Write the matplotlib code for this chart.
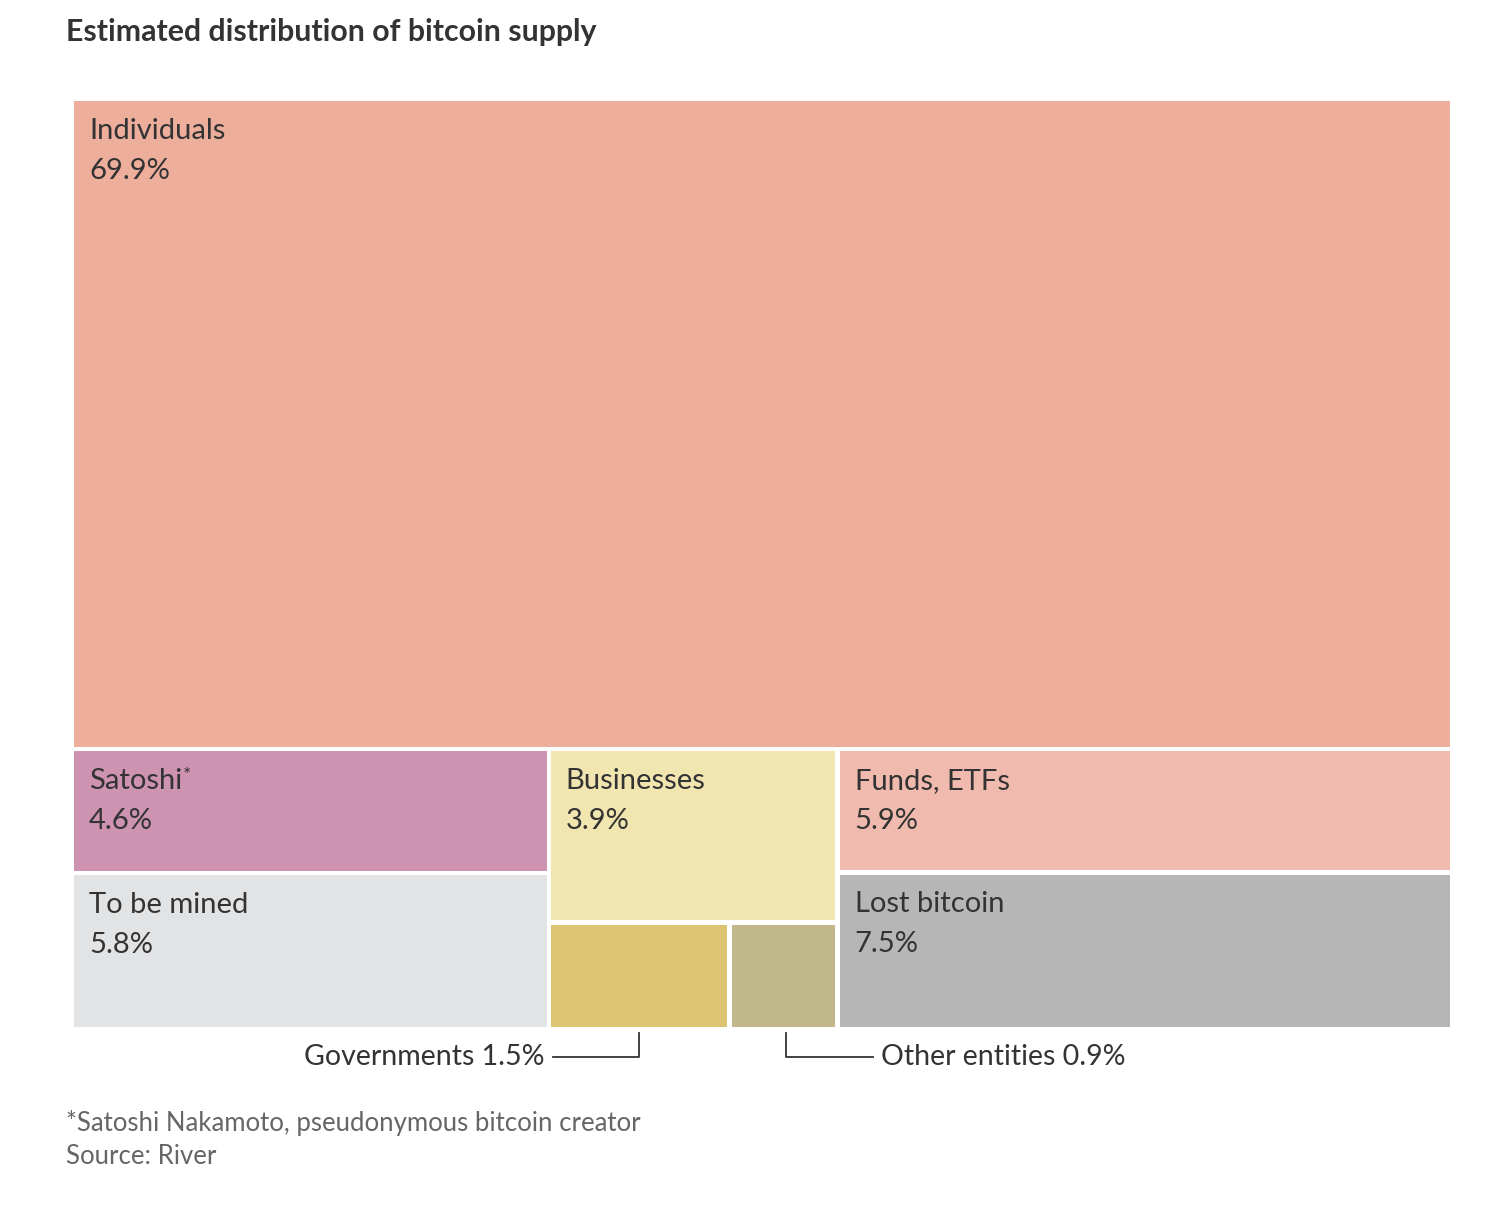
import matplotlib.pyplot as plt
from matplotlib.patches import Rectangle

plt.rcParams['font.family'] = ['Lato', 'DejaVu Sans']

# data (percent of supply)
top_label = "Individuals"
top_value = 69.9
# bottom row, column by column; each column is stacked top to bottom,
# a nested list is a sub-row split side by side
columns = [
    [("Satoshi*", 4.6), ("To be mined", 5.8)],
    [("Businesses", 3.9), [("Governments", 1.5), ("Other entities", 0.9)]],
    [("Funds, ETFs", 5.9), ("Lost bitcoin", 7.5)],
]
colors = {
    "Individuals": "#EDAE9C",
    "Satoshi*": "#CD93B1",
    "To be mined": "#E2E3E5",
    "Businesses": "#F2E6B0",
    "Governments": "#DCC473",
    "Other entities": "#C0B78A",
    "Funds, ETFs": "#F0BAAE",
    "Lost bitcoin": "#B6B6B6",
}
inline_labels = ["Individuals", "Satoshi*", "To be mined", "Businesses", "Funds, ETFs", "Lost bitcoin"]

TEXT = "#333333"
GAP = 4.5
FS = 21

fig = plt.figure(figsize=(15.08, 12.06), dpi=100)
ax = fig.add_axes([0, 0, 1, 1])
ax.set_xlim(0, 1508)
ax.set_ylim(1206, 0)
ax.axis("off")

# treemap frame in pixel coords
X0, Y0, X1, Y1 = 72, 99, 1452, 1029
W, H = X1 - X0, Y1 - Y0


def weight(item):
    if isinstance(item, list):
        return sum(weight(i) for i in item)
    return item[1]


rects = {}
total = top_value + sum(weight(c) for c in columns)
top_h = H * top_value / total
rects[top_label] = (X0, Y0, W, top_h, top_value)

bottom_total = sum(weight(c) for c in columns)
x = X0
by = Y0 + top_h
bh = H - top_h
for col in columns:
    cw = W * weight(col) / bottom_total
    y = by
    for item in col:
        ih = bh * weight(item) / weight(col)
        if isinstance(item, list):
            xx = x
            for name, v in item:
                iw = cw * v / weight(item)
                rects[name] = (xx, y, iw, ih, v)
                xx += iw
        else:
            rects[item[0]] = (x, y, cw, ih, item[1])
        y += ih
    x += cw

for name, (rx, ry, rw, rh, v) in rects.items():
    ax.add_patch(Rectangle((rx + GAP / 2, ry + GAP / 2), rw - GAP, rh - GAP,
                           facecolor=colors[name], edgecolor="none"))
    if name in inline_labels:
        if name.endswith("*"):
            t = ax.text(rx + 17, ry + 19, name[:-1], fontsize=FS, color=TEXT, va="top")
            fig.canvas.draw()
            bb = t.get_window_extent()
            ax.text(bb.x1 / fig.dpi * 100 + 1, ry + 18, "*", fontsize=14, color=TEXT, va="top")
        else:
            ax.text(rx + 17, ry + 19, name, fontsize=FS, color=TEXT, va="top")
        ax.text(rx + 17, ry + 59, f"{v}%", fontsize=FS, color=TEXT, va="top")

# leader labels for the small boxes
gx, gy, gw, gh, gv = rects["Governments"]
ox, oy, ow, oh, ov = rects["Other entities"]
ly = Y1 + 28
ax.plot([gx + gw / 2, gx + gw / 2, 553], [Y1 + 4, ly, ly], color=TEXT, lw=1.3)
ax.text(545, ly, f"Governments {gv}%", fontsize=20.5, color=TEXT, ha="right", va="center")
ax.plot([ox + ow / 2 + 3, ox + ow / 2 + 3, 873], [Y1 + 4, ly, ly], color=TEXT, lw=1.3)
ax.text(881, ly, f"Other entities {ov}%", fontsize=20.5, color=TEXT, ha="left", va="center")

ax.text(66, 32, "Estimated distribution of bitcoin supply", fontsize=21.8,
        fontweight="bold", color=TEXT, va="center")
ax.text(66, 1123, "*Satoshi Nakamoto, pseudonymous bitcoin creator", fontsize=18.5,
        color="#666666", va="center")
ax.text(66, 1157, "Source: River", fontsize=18.5, color="#666666", va="center")

fig.savefig("out.png", dpi=100, facecolor="white")
